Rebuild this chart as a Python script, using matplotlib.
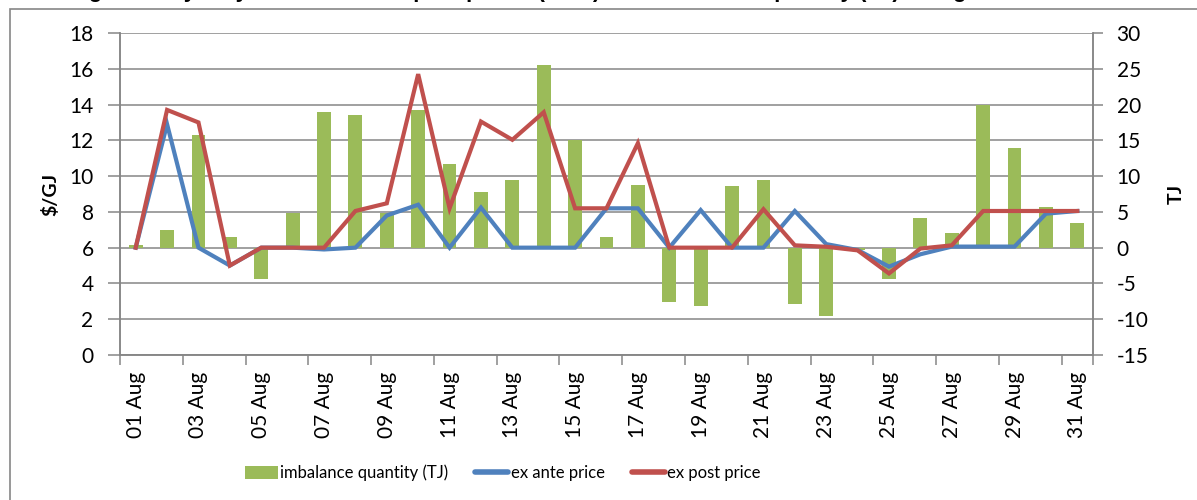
"""Sydney ex ante / ex post prices and imbalance quantity, August."""

import matplotlib
matplotlib.use("Agg")
import matplotlib.pyplot as plt
from matplotlib.patches import Patch, Rectangle
from matplotlib.lines import Line2D
from matplotlib.ticker import FixedLocator, MultipleLocator

plt.rcParams["font.family"] = ["Lato", "DejaVu Sans"]
plt.rcParams["axes.unicode_minus"] = False

# Data
day_labels = [f"{d:02d} Aug" for d in range(1, 32)]
ex_ante_price = [6.0, 12.9, 6.0, 5.0, 6.0, 6.0, 5.9, 6.0, 7.8, 8.4,
                 6.0, 8.24, 6.0, 6.0, 6.0, 8.2, 8.2, 6.0, 8.1, 6.0,
                 6.0, 8.05, 6.2, 5.87, 4.94, 5.63, 6.06, 6.06, 6.06, 7.9,
                 8.05]
ex_post_price = [6.0, 13.7, 13.0, 5.0, 6.0, 6.0, 6.0, 8.05, 8.48, 15.7,
                 8.2, 13.05, 12.03, 13.57, 8.2, 8.2, 11.84, 6.0, 6.0, 6.0,
                 8.15, 6.13, 6.05, 5.85, 4.56, 5.95, 6.13, 8.05, 8.05, 8.05,
                 8.05]
imbalance_tj = [0.33, 2.5, 15.8, 1.5, -4.4, 4.9, 19.0, 18.5, 4.9, 19.2,
                11.7, 7.8, 9.5, 25.5, 15.05, 1.54, 8.8, -7.6, -8.1, 8.6,
                9.5, -7.9, -9.55, -0.3, -4.4, 4.2, 2.1, 19.9, 13.9, 5.7,
                3.5]

GREEN = "#9BBB59"
BLUE = "#4F81BD"
RED = "#C0504D"
GRID = "#868686"

W, H = 1197, 500
fig = plt.figure(figsize=(W / 100, H / 100), dpi=100)

# Outer chart frame (cut off at right/bottom like the source)
fig.patches.append(Rectangle(
    (10 / W, -0.1), 1.2, 1 - 9 / H + 0.1, transform=fig.transFigure,
    fill=False, edgecolor=GRID, linewidth=1.2,
))

# title sits mostly above the crop, only its lower edge shows
fig.text(0.47, 1 + 3 / H,
         "Figure 5: Sydney ex ante and ex post prices ($/GJ) and imbalance "
         "quantity (TJ) \u2013 August 2010",
         family="Liberation Sans", fontweight="bold", fontsize=16,
         ha="center", va="baseline")

rect = [120 / W, 1 - 355 / H, 973 / W, 322 / H]
ax_tj = fig.add_axes(rect)           # bars + grid (drawn underneath)
ax = ax_tj.twinx()                   # price lines on top
ax.yaxis.tick_left()
ax.yaxis.set_label_position("left")
ax_tj.yaxis.tick_right()
ax_tj.yaxis.set_label_position("right")

x = list(range(len(day_labels)))

ax_tj.bar(x, imbalance_tj, width=0.44, color=GREEN, zorder=2)
ax_tj.set_ylim(-15, 30)
ax_tj.yaxis.set_major_locator(MultipleLocator(5))
ax_tj.grid(axis="y", color=GRID, linewidth=1.1, zorder=0)
ax_tj.set_axisbelow(True)

ax.plot(x, ex_ante_price, color=BLUE, linewidth=3, solid_joinstyle="miter")
ax.plot(x, ex_post_price, color=RED, linewidth=3, solid_joinstyle="miter")
ax.set_ylim(0, 18)
ax.yaxis.set_major_locator(MultipleLocator(2))
ax.set_xlim(-0.5, len(x) - 0.5)

# category labels every second day; tick marks on category boundaries
ax_tj.xaxis.set_major_locator(FixedLocator(x[::2]))
ax_tj.set_xticklabels(day_labels[::2])
ax_tj.xaxis.set_minor_locator(FixedLocator([b - 0.5 for b in x[::2]] + [len(x) - 0.5]))
ax_tj.tick_params(axis="x", which="major", length=0, pad=12,
                  labelrotation=90, labelsize=15)
ax_tj.tick_params(axis="x", which="minor", length=7, width=1.1, color=GRID)
ax.tick_params(axis="x", which="both", length=0, labelbottom=False)

ax.tick_params(axis="y", length=9, width=1.1, color=GRID, pad=10, labelsize=15)
ax_tj.tick_params(axis="y", length=7, width=1.1, color=GRID, pad=10, labelsize=15)

for a in (ax, ax_tj):
    a.spines["top"].set_visible(False)
    for s in ("left", "right", "bottom"):
        a.spines[s].set_color(GRID)
        a.spines[s].set_linewidth(1.1)

ax.set_ylabel("\\$/GJ", fontsize=14, fontweight="bold")
ax.yaxis.set_label_coords(-0.062, 0.5)
ax_tj.set_ylabel("TJ", fontsize=14, fontweight="bold", rotation=90)
ax_tj.yaxis.set_label_coords(1.077, 0.5)

# keep lines above bars
ax.set_zorder(ax_tj.get_zorder() + 1)
ax.patch.set_visible(False)
ax_tj.patch.set_visible(True)

handles = [
    Patch(facecolor=GREEN, edgecolor="none"),
    Line2D([], [], color=BLUE, linewidth=4, solid_capstyle="round"),
    Line2D([], [], color=RED, linewidth=4, solid_capstyle="round"),
]
fig.legend(handles, ["imbalance quantity (TJ)", "ex ante price", "ex post price"],
           loc="center", bbox_to_anchor=(0.42, 1 - 473 / H), ncol=3,
           frameon=False, fontsize=12, handlelength=2.0, handleheight=0.8,
           handletextpad=0.15, columnspacing=1.6)

fig.savefig("out.png", dpi=100)
